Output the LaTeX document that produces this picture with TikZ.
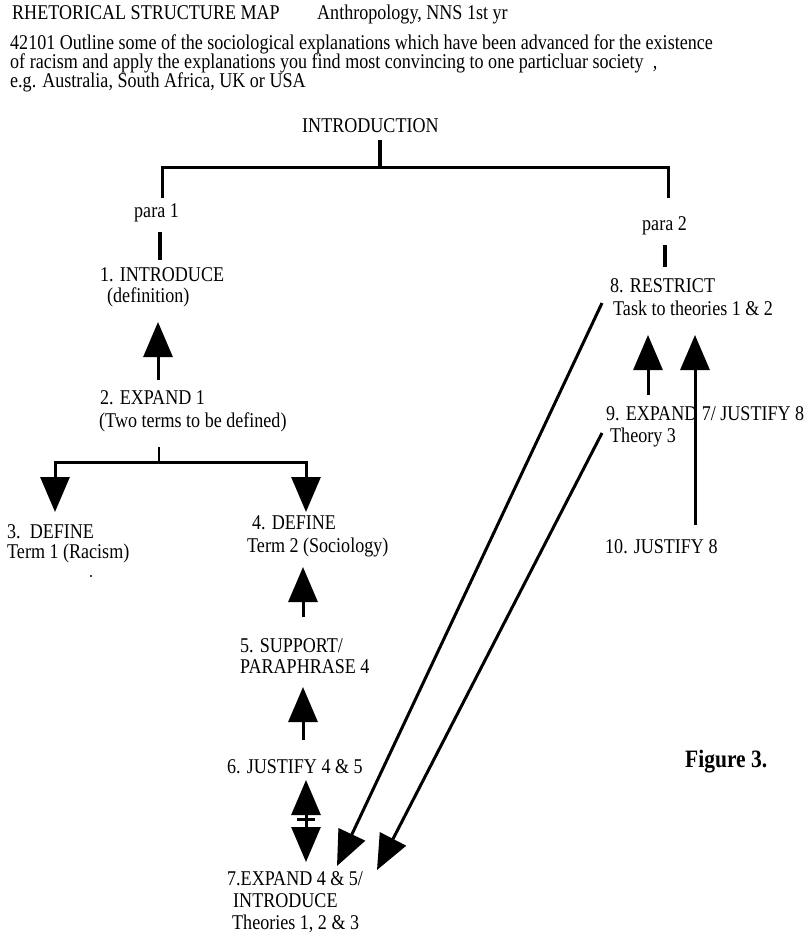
\documentclass[tikz,border=0pt]{standalone}
\usepackage{fontspec}
\setmainfont[FakeStretch=0.86]{Liberation Serif}
\usetikzlibrary{arrows.meta}
\begin{document}
\begin{tikzpicture}[x=1pt,y=-1pt,
  txt/.style={anchor=base west, inner sep=0pt, font=\fontsize{21}{23}\selectfont},
  figtxt/.style={anchor=base west, inner sep=0pt, font=\fontsize{25}{27}\selectfont\bfseries},
  ln/.style={line width=3pt, line cap=rect},
  bar/.style={line width=3.5pt},
  arr/.style={line width=3pt, -{Triangle[length=35pt,width=29pt]}}]
\useasboundingbox[fill=white] (0,0) rectangle (807,933);

% header
\node[txt] (h1) at (12,20) {RHETORICAL STRUCTURE MAP};
\node[txt] (h1b) at (317,20) {Anthropology, NNS 1st yr};
\node[txt] (h2) at (10,50) {42101 Outline some of the sociological explanations which have been advanced for the existence};
\node[txt] (h3) at (10,69) {of racism and apply the explanations you find most convincing to one particluar society\ \ ,};
\node[txt] (h4) at (10,88) {e.g. Australia, South Africa, UK or USA};

% introduction and bracket
\node[txt] (intro) at (302,133) {INTRODUCTION};
\coordinate (ibt) at (380,140);
\coordinate (ibb) at (380,168);
\coordinate (bl) at (162,168);
\coordinate (br) at (668,168);
\coordinate (bld) at (162,197);
\coordinate (brd) at (668,197);
\draw[bar] (ibt) -- (ibb);
\draw[ln, line join=miter] (bld) -- (bl) -- (br) -- (brd);

\node[txt] (p1) at (134,218) {para 1};
\node[txt] (p2) at (642,230) {para 2};
\coordinate (p1t) at (160,232);
\coordinate (p1b) at (160,260);
\coordinate (p2t) at (665,245);
\coordinate (p2b) at (665,267);
\draw[bar] (p1t) -- (p1b);
\draw[bar] (p2t) -- (p2b);

% left column
\node[txt] (n1) at (100,281) {1. INTRODUCE};
\node[txt] (n1b) at (107,302) {(definition)};
\node[txt] (n2) at (100,404) {2. EXPAND 1};
\node[txt] (n2b) at (99,427) {(Two terms to be defined)};
\coordinate (a21s) at (158,380);
\coordinate (a21e) at (158,322);
\draw[arr] (a21s) -- (a21e);

\coordinate (tk) at (159,447);
\coordinate (tkb) at (159,462);
\coordinate (t3) at (55,512);
\coordinate (t4) at (306,512);
\draw[line width=2pt] (tk) -- (tkb);
\draw[arr, line join=miter] (tkb) -| (t3);
\draw[arr, line join=miter] (tkb) -| (t4);

\node[txt] (n3) at (7,538) {3.\ \ DEFINE};
\node[txt] (n3b) at (7,558) {Term 1 (Racism)};
\fill (91,576) circle (1.2pt);
\node[txt] (n4) at (252,529) {4. DEFINE};
\node[txt] (n4b) at (247,552) {Term 2 (Sociology)};

\node[txt] (n5) at (240,652) {5. SUPPORT/};
\node[txt] (n5b) at (240,673) {PARAPHRASE 4};
\coordinate (a54s) at (303,617);
\coordinate (a54e) at (303,567);
\draw[arr] (a54s) -- (a54e);

\node[txt] (n6) at (227,773) {6. JUSTIFY 4 \& 5};
\coordinate (a65s) at (303,740);
\coordinate (a65e) at (303,687);
\draw[arr] (a65s) -- (a65e);

\coordinate (dm) at (306,819);
\coordinate (du) at (306,780);
\coordinate (dd) at (306,862);
\coordinate (dl) at (297,819);
\coordinate (dr) at (315,819);
\draw[arr] (dm) -- (du);
\draw[arr] (dm) -- (dd);
\draw[line width=3pt] (dl) -- (dr);

\node[txt] (n7) at (227,885) {7.EXPAND 4 \& 5/};
\node[txt] (n7b) at (233,907) {INTRODUCE};
\node[txt] (n7c) at (232,929) {Theories 1, 2 \& 3};

% right column
\node[txt] (n8) at (610,292) {8. RESTRICT};
\node[txt] (n8b) at (613,315) {Task to theories 1 \& 2};
\node[txt] (n9) at (606,420) {9. EXPAND 7/ JUSTIFY 8};
\node[txt] (n9b) at (610,442) {Theory 3};
\node[txt] (n10) at (605,553) {10. JUSTIFY 8};

\coordinate (a98s) at (648,395);
\coordinate (a98e) at (648,335);
\draw[arr] (a98s) -- (a98e);
\coordinate (a108s) at (695,525);
\coordinate (a108e) at (695,335);
\draw[arr] (a108s) -- (a108e);

\coordinate (d1s) at (602,303);
\coordinate (d1e) at (337,866);
\draw[arr] (d1s) -- (d1e);
\coordinate (d2s) at (602,433);
\coordinate (d2e) at (377,870);
\draw[arr] (d2s) -- (d2e);

\node[figtxt] (fig) at (685,767) {Figure 3.};
\end{tikzpicture}
\end{document}
